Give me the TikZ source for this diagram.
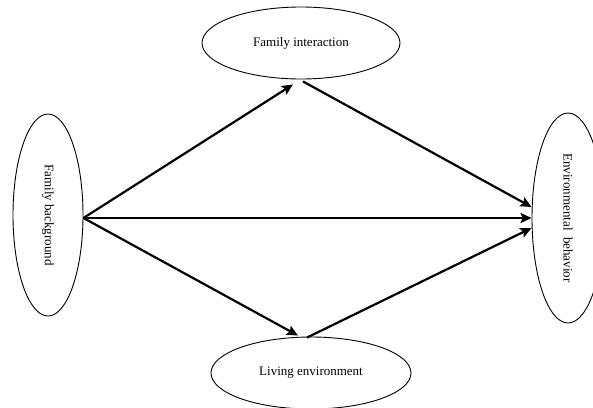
\documentclass[tikz,border=0pt]{standalone}
\usepackage{fontspec}
\setmainfont{Liberation Serif}
\usepackage{graphicx}
\usetikzlibrary{arrows.meta,shapes.geometric}
\tikzset{
  factor/.style={draw=black, ellipse, line width=0.9pt, inner sep=0pt,
                 align=center, font=\fontsize{13}{15}\selectfont},
  arr/.style={-{Stealth[length=11pt,width=10pt,inset=2pt]}, line width=2.2pt}}
\begin{document}
\begin{tikzpicture}[x=1pt,y=-1pt]
  \useasboundingbox (0,0) rectangle (593,407);
  \node[factor, minimum width=70pt, minimum height=202pt] (fb) at (48,215)
    {\rotatebox{-90}{Family background}};
  \node[factor, minimum width=198pt, minimum height=72pt] (fi) at (301,43)
    {Family interaction};
  \node[factor, minimum width=200pt, minimum height=72pt] (le) at (311,373)
    {Living environment};
  \node[factor, minimum width=72pt, minimum height=210pt] (eb) at (568,218)
    {\rotatebox{-90}{Environmental\ \ behavior}};
  \draw[arr] ([yshift=-3pt]fb.east) -- ([xshift=-8pt,yshift=-5pt]fi.south);
  \draw[arr] ([yshift=-3pt]fb.east) -- (eb.west);
  \draw[arr] ([yshift=-3pt]fb.east) -- ([xshift=-13pt,yshift=1pt]le.north);
  \draw[arr] ([xshift=2pt,yshift=-2pt]fi.south) -- ([yshift=11pt]eb.west);
  \draw[arr] ([xshift=-4pt,yshift=-1pt]le.north) -- ([yshift=-10pt]eb.west);
\end{tikzpicture}
\end{document}
